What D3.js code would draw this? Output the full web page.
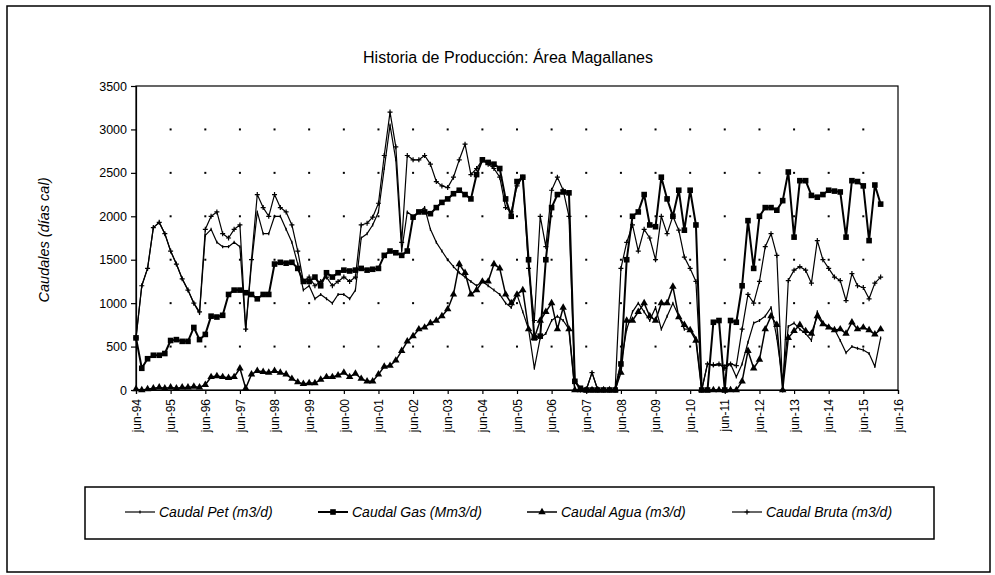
<!DOCTYPE html>
<html>
<head>
<meta charset="utf-8">
<script src="https://cdn.jsdelivr.net/npm/d3@7"></script>
<style>
  body { margin: 0; background: #fff; }
  svg text { font-family: "Liberation Sans", Arial, sans-serif; fill: #000; }
</style>
</head>
<body>
<svg id="chart" width="995" height="575"></svg>
<script>
// Bimonthly readings starting jun-94 (jun, ago, oct, dic, feb, abr per year)
const firstMonth = new Date(1994, 5, 1);
const monthsPerStep = 2;

const caudalPet = [
  600, 1200, 1400, 1870, 1930, 1800,
  1600, 1450, 1280, 1150, 1000, 880,
  1780, 1850, 1700, 1650, 1650, 1700,
  1650, 690, 1450, 2050, 1800, 1800,
  2000, 2000, 1850, 1700, 1450, 1150,
  1200, 1050, 1100, 1050, 1000, 1100,
  1100, 1050, 1150, 1750, 1800, 1900,
  2050, 2550, 3050, 2650, 1600, 2050,
  2000, 2050, 2100, 1850, 1700, 1600,
  1500, 1420, 1350, 1300, 1250, 1200,
  1250, 1200, 1150, 1100, 1000, 950,
  1100, 900, 700, 250, 600, 650,
  800, 850, 800, 700, 0, 0,
  0, 200, 0, 0, 0, 0,
  300, 700, 900, 1000, 900, 800,
  950, 700, 850, 1000, 850, 700,
  700, 600, 0, 300, 280, 290,
  280, 300, 150, 300, 550, 770,
  800, 850, 950, 600, 100, 730,
  770, 700, 650, 570, 900, 770,
  730, 700, 570, 430, 500, 480,
  460, 420, 270, 600
];

const caudalGas = [
  600, 250, 360, 400, 400, 420,
  570, 580, 560, 560, 720, 580,
  640, 850, 840, 860, 1100, 1150,
  1150, 1120, 1100, 1050, 1100, 1100,
  1450, 1470, 1460, 1470, 1400, 1250,
  1250, 1300, 1200, 1350, 1300, 1350,
  1380, 1370, 1380, 1400, 1380, 1390,
  1400, 1550, 1600, 1580, 1550, 1600,
  1990, 2050, 2050, 2030, 2100, 2160,
  2200, 2260, 2300, 2250, 2200, 2480,
  2650, 2620, 2600, 2550, 2200, 2000,
  2400, 2450, 1500, 600, 620, 1500,
  2100, 2250, 2280, 2270, 100, 20,
  0, 0, 0, 0, 0, 0,
  300, 1500, 2000, 2050, 2250, 1900,
  1880, 2450, 2200, 2000, 2300, 1840,
  2300, 1900, 0, 0, 780, 800,
  0, 800, 780, 1200, 1950, 1400,
  2000, 2100, 2100, 2070, 2180, 2510,
  1760, 2410, 2410, 2240, 2220, 2250,
  2300, 2290, 2280, 1760, 2410, 2400,
  2350, 1720, 2360, 2140
];

const caudalAgua = [
  10, 0, 10, 20, 30, 20,
  30, 20, 30, 30, 40, 30,
  60, 150, 160, 150, 140, 150,
  250, 20, 180, 220, 210, 200,
  220, 200, 180, 130, 90, 70,
  80, 80, 120, 150, 150, 170,
  200, 150, 190, 130, 100, 100,
  180, 270, 280, 340, 450, 560,
  620, 700, 720, 770, 800, 850,
  930, 1100, 1450, 1350, 1100, 1150,
  1250, 1250, 1450, 1400, 1100, 1000,
  1100, 1150, 700, 600, 800, 900,
  1000, 700, 950, 700, 0, 0,
  0, 0, 0, 0, 0, 0,
  200, 800, 800, 900, 1000, 850,
  800, 1000, 1000, 1190, 840, 750,
  690, 570, 0, 0, 0, 0,
  0, 0, 0, 100, 450, 250,
  350, 700, 850, 750, 0, 600,
  680, 750, 680, 650, 850, 760,
  720, 690, 700, 650, 780, 700,
  720, 690, 640, 700
];

const caudalBruta = [
  600, 1200, 1400, 1870, 1930, 1800,
  1600, 1450, 1280, 1150, 1000, 900,
  1850, 2000, 2050, 1800, 1750, 1850,
  1900, 700, 1500, 2250, 2100, 2000,
  2250, 2100, 2050, 1900, 1600, 1250,
  1300, 1200, 1250, 1300, 1200, 1250,
  1300, 1250, 1300, 1900, 1920, 1990,
  2150, 2700, 3200, 2800, 1700, 2700,
  2650, 2650, 2700, 2600, 2400, 2350,
  2330, 2450, 2650, 2830, 2480, 2550,
  2650, 2600, 2550, 2450, 2100, 2050,
  2350, 2450, 1400, 800, 2000, 1650,
  2300, 2450, 2300, 2000, 100, 0,
  0, 200, 0, 0, 0, 0,
  1400, 1700, 1900, 1600, 1850, 1750,
  1500, 2000, 1800, 2000, 1840, 1530,
  1400, 1250, 0, 300, 290, 300,
  250, 300, 280, 700, 1100, 1000,
  1250, 1650, 1800, 1550, 0, 1260,
  1380, 1420, 1380, 1230, 1720, 1500,
  1400, 1300, 1260, 1030, 1340, 1200,
  1180, 1050, 1230, 1300
];

const seriesNames = ["Caudal Pet (m3/d)", "Caudal Gas (Mm3/d)", "Caudal Agua (m3/d)", "Caudal Bruta (m3/d)"];
const yTicks = [0, 500, 1000, 1500, 2000, 2500, 3000, 3500];
const xTickLabels = ["jun-94", "jun-95", "jun-96", "jun-97", "jun-98", "jun-99", "jun-00", "jun-01",
  "jun-02", "jun-03", "jun-04", "jun-05", "jun-06", "jun-07", "jun-08", "jun-09", "jun-10",
  "jun-11", "jun-12", "jun-13", "jun-14", "jun-15", "jun-16"];
const chartTitle = "Historia de Producción: Área Magallanes";
const yTitle = "Caudales (días cal)";

const svg = d3.select("#chart");

// outer frame
svg.append("rect").attr("x", 7).attr("y", 6).attr("width", 983).attr("height", 566)
  .attr("fill", "none").attr("stroke", "#000").attr("stroke-width", 1.5);

const tickDates = xTickLabels.map(s => new Date(2000 + (+s.slice(4)) - (+s.slice(4) > 50 ? 100 : 0), 5, 1));
const x = d3.scaleTime().domain([tickDates[0], tickDates[tickDates.length - 1]]).range([136, 898]);
const y = d3.scaleLinear().domain([0, 3500]).range([390, 86]);

const dates = caudalPet.map((_, i) => d3.timeMonth.offset(firstMonth, i * monthsPerStep));

// title
svg.append("text").attr("x", 508).attr("y", 63).attr("text-anchor", "middle")
  .style("font-size", "16px").text(chartTitle);

// dotted grid: points where year lines cross value lines
const grid = svg.append("g");
tickDates.slice(1, -1).forEach(d => {
  yTicks.slice(1, -1).forEach(v => {
    grid.append("rect").attr("x", x(d) - 1).attr("y", y(v) - 1).attr("width", 2).attr("height", 2).attr("fill", "#000");
  });
});

// plot frame
svg.append("rect").attr("x", x.range()[0]).attr("y", y.range()[1])
  .attr("width", x.range()[1] - x.range()[0]).attr("height", y.range()[0] - y.range()[1])
  .attr("fill", "none").attr("stroke", "#000").attr("stroke-width", 1.2);

// y axis
const yAxis = svg.append("g").attr("transform", `translate(${x.range()[0]},0)`)
  .call(d3.axisLeft(y).tickValues(yTicks).tickSize(5).tickPadding(4).tickFormat(d3.format("d")));
yAxis.selectAll("text").style("font-size", "12.5px");
yAxis.selectAll("path,line").attr("stroke", "#000").attr("stroke-width", 1.2);

// x axis with vertical labels
const xAxis = svg.append("g").attr("transform", `translate(0,${y.range()[0]})`)
  .call(d3.axisBottom(x).tickValues(tickDates).tickSize(4).tickFormat((d, i) => xTickLabels[i]));
xAxis.selectAll("path,line").attr("stroke", "#000").attr("stroke-width", 1.2);
xAxis.selectAll("text")
  .attr("transform", "rotate(-90)").attr("x", -9).attr("y", 0).attr("dy", "0.35em")
  .style("text-anchor", "end").style("font-size", "12px");

// y axis title
svg.append("text").attr("transform", "translate(49,240) rotate(-90)").attr("text-anchor", "middle")
  .style("font-size", "14.5px").style("font-style", "italic").text(yTitle);

// series
const markerPet = (g) => g.append("line").attr("x1", 0).attr("x2", 0).attr("y1", -1.5).attr("y2", 1.5).attr("stroke", "#000").attr("stroke-width", 1.2);
const markerGas = (g) => g.append("rect").attr("x", -2.8).attr("y", -2.8).attr("width", 5.6).attr("height", 5.6).attr("fill", "#000");
const markerAgua = (g) => g.append("path").attr("d", d3.symbol(d3.symbolTriangle, 24)()).attr("fill", "#000");
const markerBruta = (g) => g.append("path").attr("d", "M-2.5,0H2.5M0,-2.5V2.5").attr("stroke", "#000").attr("stroke-width", 1.2);

const series = [
  { name: seriesNames[0], values: caudalPet, width: 1.2, marker: markerPet },
  { name: seriesNames[1], values: caudalGas, width: 2, marker: markerGas },
  { name: seriesNames[2], values: caudalAgua, width: 1.5, marker: markerAgua },
  { name: seriesNames[3], values: caudalBruta, width: 1.2, marker: markerBruta }
];

const line = d3.line().x(d => x(d.date)).y(d => y(d.value));
const plot = svg.append("g");
series.forEach(s => {
  const pts = s.values.map((v, i) => ({ date: dates[i], value: v }));
  plot.append("path").datum(pts).attr("d", line).attr("fill", "none")
    .attr("stroke", "#000").attr("stroke-width", s.width).attr("stroke-linejoin", "round");
  pts.forEach(p => {
    const g = plot.append("g").attr("transform", `translate(${x(p.date)},${y(p.value)})`);
    s.marker(g);
  });
});

// legend
svg.append("rect").attr("x", 85).attr("y", 487).attr("width", 849).attr("height", 52)
  .attr("fill", "none").attr("stroke", "#000").attr("stroke-width", 1.5);
const legendX = [125, 318, 527, 732];
series.forEach((s, i) => {
  const g = svg.append("g").attr("transform", `translate(${legendX[i]},512)`);
  g.append("line").attr("x1", 0).attr("x2", 30).attr("stroke", "#000").attr("stroke-width", s.width);
  s.marker(g.append("g").attr("transform", "translate(15,0)"));
  g.append("text").attr("x", 34).attr("dy", "0.35em").style("font-size", "14px")
    .style("font-style", "italic").text(s.name);
});
</script>
</body>
</html>
